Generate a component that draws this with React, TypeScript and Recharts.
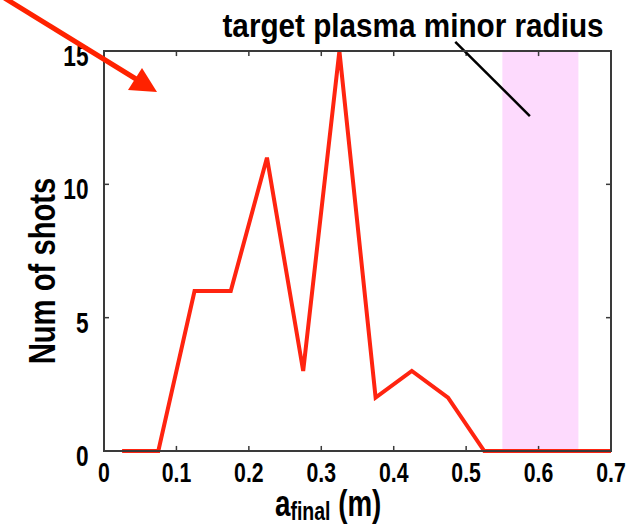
import React from 'react';
import { ComposedChart, Line, XAxis, YAxis, ReferenceArea, ReferenceLine } from 'recharts';

// ---- data ----
const aFinal = [0.025, 0.075, 0.125, 0.175, 0.225, 0.275, 0.325, 0.375, 0.425, 0.475, 0.525, 0.575, 0.625, 0.675, 0.7];
const numShots = [0, 0, 6, 6, 11, 3, 15, 2, 3, 2, 0, 0, 0, 0, 0];
const xTicks = [0, 0.1, 0.2, 0.3, 0.4, 0.5, 0.6, 0.7];
const yTicks = [0, 5, 10, 15];
const targetBand = [0.55, 0.655];
const pointerStart = { x: 0.485, y: 15.34 };
const pointerEnd = { x: 0.588, y: 12.56 };
const titleText = 'target plasma minor radius';
const yLabel = 'Num of shots';

const X_MIN = 0;
const X_MAX = 0.7;
const Y_MIN = 0;
const Y_MAX = 15;
const TICK_X_LEN = 0.0069; // ~5px in x units
const TICK_Y_LEN = 0.19; // ~5px in y units

// chart layout (plot area = 104..611 x 51..451)
const CHART_W = 643;
const CHART_H = 525;
const MARGIN = { top: 51, right: 32, left: 0, bottom: 0 };
const Y_AXIS_W = 104;
const X_AXIS_H = 74;
const PLOT = {
  left: MARGIN.left + Y_AXIS_W,
  top: MARGIN.top,
  width: CHART_W - MARGIN.left - Y_AXIS_W - MARGIN.right,
  height: CHART_H - MARGIN.top - X_AXIS_H - MARGIN.bottom,
};

const data = aFinal.map((a, i) => ({ a, n: numShots[i] }));

const FONT = "'Liberation Sans', Arial, Helvetica, sans-serif";
const AXIS = '#3a3a3a';
const RED = '#ff2410';

const BottomTick = (props: any) => {
  const { x, y, payload } = props;
  return (
    <text
      transform={`translate(${x},${y + 31}) scale(0.76,1)`}
      textAnchor="middle"
      fontSize={28}
      fontWeight="bold"
      fontFamily={FONT}
      fill="#000"
    >
      {String(payload.value)}
    </text>
  );
};

const LeftTick = (props: any) => {
  const { x, y, payload } = props;
  return (
    <text
      transform={`translate(${x - 15.5},${y + 15}) scale(0.78,1)`}
      textAnchor="end"
      fontSize={29}
      fontWeight="bold"
      fontFamily={FONT}
      fill="#000"
    >
      {String(payload.value)}
    </text>
  );
};

export default function App() {
  return (
    <div style={{ position: 'absolute', left: 0, top: 0, width: CHART_W, height: CHART_H, background: '#fff' }}>
      <ComposedChart width={CHART_W} height={CHART_H} data={data} margin={MARGIN}>
        <XAxis
          dataKey="a"
          type="number"
          domain={[X_MIN, X_MAX]}
          ticks={xTicks}
          interval={0}
          height={X_AXIS_H}
          tickSize={0}
          tickMargin={0}
          tickLine={false}
          axisLine={{ stroke: AXIS, strokeWidth: 2 }}
          tick={(p: any) => <BottomTick {...p} />}
        />
        <YAxis
          type="number"
          domain={[Y_MIN, Y_MAX]}
          ticks={yTicks}
          interval={0}
          width={Y_AXIS_W}
          tickSize={0}
          tickMargin={0}
          tickLine={false}
          axisLine={{ stroke: AXIS, strokeWidth: 2 }}
          tick={(p: any) => <LeftTick {...p} />}
        />
        <ReferenceArea
          x1={targetBand[0]}
          x2={targetBand[1]}
          y1={Y_MIN}
          y2={Y_MAX}
          fill="#fddafd"
          fillOpacity={1}
          stroke="none"
        />
        {xTicks.map((t) => (
          <ReferenceLine
            key={`xb${t}`}
            segment={[{ x: t, y: Y_MIN }, { x: t, y: Y_MIN + TICK_Y_LEN }]}
            stroke={AXIS}
            strokeWidth={1.5}
            ifOverflow="visible"
          />
        ))}
        {xTicks.map((t) => (
          <ReferenceLine
            key={`xt${t}`}
            segment={[{ x: t, y: Y_MAX }, { x: t, y: Y_MAX - TICK_Y_LEN }]}
            stroke={AXIS}
            strokeWidth={1.5}
            ifOverflow="visible"
          />
        ))}
        {yTicks.map((t) => (
          <ReferenceLine
            key={`yl${t}`}
            segment={[{ x: X_MIN, y: t }, { x: X_MIN + TICK_X_LEN, y: t }]}
            stroke={AXIS}
            strokeWidth={1.5}
            ifOverflow="visible"
          />
        ))}
        {yTicks.map((t) => (
          <ReferenceLine
            key={`yr${t}`}
            segment={[{ x: X_MAX, y: t }, { x: X_MAX - TICK_X_LEN, y: t }]}
            stroke={AXIS}
            strokeWidth={1.5}
            ifOverflow="visible"
          />
        ))}
        <ReferenceLine
          segment={[pointerStart, pointerEnd]}
          stroke="#000"
          strokeWidth={2.5}
          ifOverflow="visible"
        />
        <Line
          dataKey="n"
          type="linear"
          stroke={RED}
          strokeWidth={4}
          dot={false}
          activeDot={false}
          isAnimationActive={false}
          strokeLinejoin="miter"
        />
      </ComposedChart>
      <svg
        width={CHART_W}
        height={CHART_H}
        style={{ position: 'absolute', left: 0, top: 0, pointerEvents: 'none' }}
      >
        <rect
          x={PLOT.left}
          y={PLOT.top}
          width={PLOT.width}
          height={PLOT.height}
          fill="none"
          stroke={AXIS}
          strokeWidth={2}
        />
        <line x1={-2} y1={-6} x2={136} y2={79} stroke="#ff2200" strokeWidth={5} />
        <polygon points="157,92 128,90 142,68" fill="#ff2200" />
        <text
          transform="translate(413,37) scale(0.9,1)"
          textAnchor="middle"
          fontSize={33}
          fontWeight="bold"
          fontFamily={FONT}
          fill="#000"
        >
          {titleText}
        </text>
        <text
          transform="translate(55,271) rotate(-90) scale(0.79,1)"
          textAnchor="middle"
          fontSize={37}
          fontWeight="bold"
          fontFamily={FONT}
          fill="#000"
        >
          {yLabel}
        </text>
        <text
          transform="translate(275,516) scale(0.75,1)"
          fontWeight="bold"
          fontFamily={FONT}
          fill="#000"
        >
          <tspan fontSize={37}>a</tspan>
          <tspan fontSize={26} dy={4}>final</tspan>
          <tspan fontSize={37} dy={-4}> (m)</tspan>
        </text>
      </svg>
    </div>
  );
}
